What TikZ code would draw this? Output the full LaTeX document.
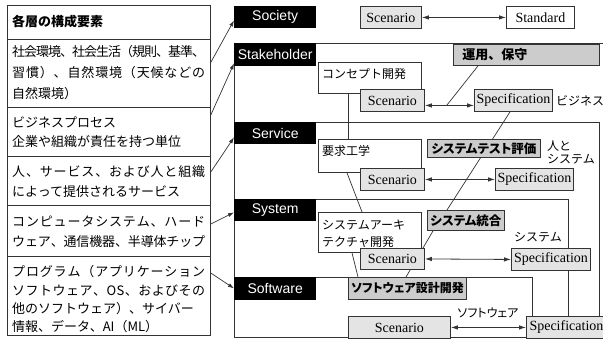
\documentclass[tikz,border=0pt]{standalone}
\usepackage{fontspec}
\usepackage{graphicx}
\setmainfont{Liberation Serif}
\newfontfamily\jp{Noto Sans CJK JP}
\newfontfamily\jpp[RawFeature=+palt]{Noto Sans CJK JP}
\newfontfamily\lsans{Liberation Sans}
\usetikzlibrary{arrows.meta,backgrounds}
\ExplSyntaxOn
\NewDocumentCommand\jl{m}{\makebox[193pt][s]{\tl_map_inline:nn{#1}{##1\hskip~0pt~plus~1fil~minus~1.5pt\relax}\unskip}}
\ExplSyntaxOff
\definecolor{boxline}{HTML}{333333}
\definecolor{lgray}{HTML}{E4E4E4}
\definecolor{dgray}{HTML}{CCCCCC}
\tikzset{
 lay/.style={fill=black, text=white, font=\lsans\fontsize{14}{16}\selectfont, minimum width=82pt, minimum height=22pt, inner sep=0pt, anchor=north west},
 sbox/.style={draw=boxline, line width=0.9pt, fill=lgray, font=\fontsize{14}{16}\selectfont, inner sep=0pt, anchor=north west},
 wbox/.style={draw=boxline, line width=0.8pt, fill=white, inner sep=0pt, anchor=north west},
 bbox/.style={draw=boxline, line width=0.9pt, fill=dgray, font=\jpp\bfseries\fontsize{12.5}{14}\selectfont, inner sep=0pt, anchor=north west},
 jt/.style={font=\jp\fontsize{12}{14}\selectfont, inner sep=0pt, anchor=west},
 jtp/.style={font=\jpp\fontsize{12}{14}\selectfont, inner sep=0pt},
 lt/.style={font=\jp\fontsize{13}{15}\selectfont, inner sep=0pt, anchor=west},
 lrow/.style={draw=boxline, line width=0.8pt, minimum width=203pt, inner sep=0pt, anchor=north west},
 frame/.style={draw=boxline, line width=0.8pt},
 conn/.style={draw=boxline, line width=0.7pt},
 darr/.style={draw=boxline, line width=0.8pt, {Latex[length=7pt,width=4.5pt]}-{Latex[length=7pt,width=4.5pt]}},
 sarr/.style={draw=boxline, line width=0.7pt, -{Latex[length=6pt,width=4pt]}},
}
\begin{document}
\begin{tikzpicture}[x=1pt,y=-1pt]
\useasboundingbox (0,0) rectangle (603,339);
% ---------- right part: boxes ----------
\node[wbox, minimum width=103pt, minimum height=31pt] (cd) at (318,62) {};
\node[jt] (cdt) at (322,74) {コンセプト開発};
\node[wbox, minimum width=103pt, minimum height=33pt] (req) at (318,139) {};
\node[jt] (reqt) at (322,151) {要求工学};
\node[wbox, minimum width=103pt, minimum height=40pt] (sa) at (318,212) {};
\node[jt] (sat1) at (322,225) {システムアーキ};
\node[jt] (sat2) at (322,242) {テクチャ開発};

\node[sbox, minimum width=61pt, minimum height=22pt] (sc1) at (360,6) {Scenario};
\node[sbox, fill=white, minimum width=68pt, minimum height=22pt] (std) at (506,6) {Standard};

\node[sbox, minimum width=64pt, minimum height=22pt] (sc2) at (360,89) {Scenario};
\node[bbox, font=\jp\bfseries\fontsize{13}{15}\selectfont, text width=128pt, inner xsep=9pt, align=left, minimum height=21pt] (ops) at (453,44) {運用、保守};
\node[sbox, minimum width=78pt, minimum height=22pt] (sp2) at (474,89) {Specification};
\node[jt] (biz) at (556,101) {ビジネス};

\node[sbox, minimum width=64pt, minimum height=22pt] (sc3) at (360,168) {Scenario};
\node[bbox, minimum width=113pt, minimum height=18pt] (tst) at (427,139) {システムテスト評価};
\node[jt] (hs1) at (547,146) {人と};
\node[jt] (hs2) at (547,159) {システム};
\node[sbox, minimum width=78pt, minimum height=22pt] (sp3) at (495,168) {Specification};

\node[sbox, minimum width=64pt, minimum height=21pt] (sc4) at (360,248) {Scenario};
\node[bbox, minimum width=77pt, minimum height=20pt] (sint) at (427,210) {システム統合};
\node[jt, anchor=center] (syl) at (538,237) {システム};
\node[sbox, minimum width=79pt, minimum height=22pt] (sp4) at (511,248) {Specification};

\node[bbox, minimum width=118pt, minimum height=22pt, font=\jpp\bfseries\fontsize{12}{14}\selectfont] (swd) at (348,277) {ソフトウェア設計開発};
\node[sbox, minimum width=102pt, minimum height=22pt] (sc5) at (348,316) {Scenario};
\node[jtp] (swl) at (488,313) {ソフトウェア};
\node[sbox, minimum width=80pt, minimum height=22pt] (sp5) at (526,316) {Specification};

% layer labels
\node[lay] (soc) at (234,6) {Society};
\node[lay, minimum height=23pt] (stk) at (234,43) {Stakeholder};
\node[lay] (svc) at (234,122) {Service};
\node[lay] (sys) at (234,199) {System};
\node[lay, minimum height=23pt] (sw) at (234,277) {Software};

% frames and connectors behind
\begin{scope}[on background layer]
\draw[frame] (234,337) -- (234,43) -- (610,43);
\draw[frame] (234,337) -- (610,337);
\draw[frame] (234,122) -- (599,122) -- (599,337);
\draw[frame] (234,199) -- (568,199) -- (568,337);
\draw[frame] (234,277) -- (532,277) -- (532,337);
\coordinate (j1) at (447,105);
\draw[conn] ([xshift=30pt]cd.south west) -- ([xshift=30pt]req.north west);
\draw[conn] ([xshift=25pt]ops.south west) -- (j1);
\draw[conn] ([xshift=29pt]req.south west) -- ([xshift=44pt]sa.north west);
\draw[conn] ([xshift=36pt]sp2.south west) -- ([xshift=20pt]sint.north west);
\draw[conn] ([xshift=6pt]sint.south west) -- ([xshift=58pt]swd.north west);
\draw[conn] ([xshift=34pt]sa.south west) -- ([xshift=10pt]swd.north west);
\end{scope}

% double arrows
\draw[darr] (sc1.east) -- (std.west);
\draw[darr] ([yshift=-5pt]sc2.east) -- ([yshift=-5pt]sp2.west);
\draw[darr] (sc3.east) -- (sp3.west);
\draw[darr] (sc4.east) -- (sp4.west);
\draw[darr] (sc5.east) -- (sp5.west);

% ---------- left table ----------
\node[lrow, minimum height=34pt] (h) at (7,5) {};
\node[lrow, minimum height=68pt] (r1) at (7,39) {};
\node[lrow, minimum height=49pt] (r2) at (7,107) {};
\node[lrow, minimum height=49pt] (r3) at (7,156) {};
\node[lrow, minimum height=51pt] (r4) at (7,205) {};
\node[lrow, minimum height=79pt] (r5) at (7,256) {};

\node[lt, font=\jp\bfseries\fontsize{13}{15}\selectfont] (ht) at (12,22) {各層の構成要素};
\node[lt] (t11) at (12,52) {\jl{社会環境、社会生活（規則、基準、}};
\node[lt] (t12) at (12,73) {\jl{習慣）、自然環境（天候などの}};
\node[lt] (t13) at (12,94) {自然環境）};
\node[lt] (t21) at (12,122) {ビジネスプロセス};
\node[lt] (t22) at (12,142) {企業や組織が責任を持つ単位};
\node[lt] (t31) at (12,172) {\jl{人、サービス、および人と組織}};
\node[lt] (t32) at (12,192) {によって提供されるサービス};
\node[lt] (t41) at (12,222) {\jl{コンピュータシステム、ハード}};
\node[lt] (t42) at (12,242) {\jl{ウェア、通信機器、半導体チップ}};
\node[lt] (t51) at (12,272) {\jl{プログラム（アプリケーション}};
\node[lt] (t52) at (12,291) {\jl{ソフトウェア、OS、およびその}};
\node[lt] (t53) at (12,309) {他のソフトウェア）、サイバー};
\node[lt] (t54) at (12,327) {情報、データ、AI（ML）};

% left arrows
\draw[sarr] ([yshift=11pt]r1.east) -- ([yshift=8pt]soc.south west);
\draw[sarr] ([yshift=-8pt]r2.north east) -- ([yshift=3pt]stk.south west);
\draw[sarr] ([yshift=-16pt]r3.north east) -- ([yshift=7pt]svc.south west);
\draw[sarr] ([yshift=-19pt]r4.north east) -- ([yshift=9pt]sys.south west);
\draw[sarr] ([yshift=-17pt]r5.north east) -- ([yshift=12pt]sw.south west);
\end{tikzpicture}
\end{document}
